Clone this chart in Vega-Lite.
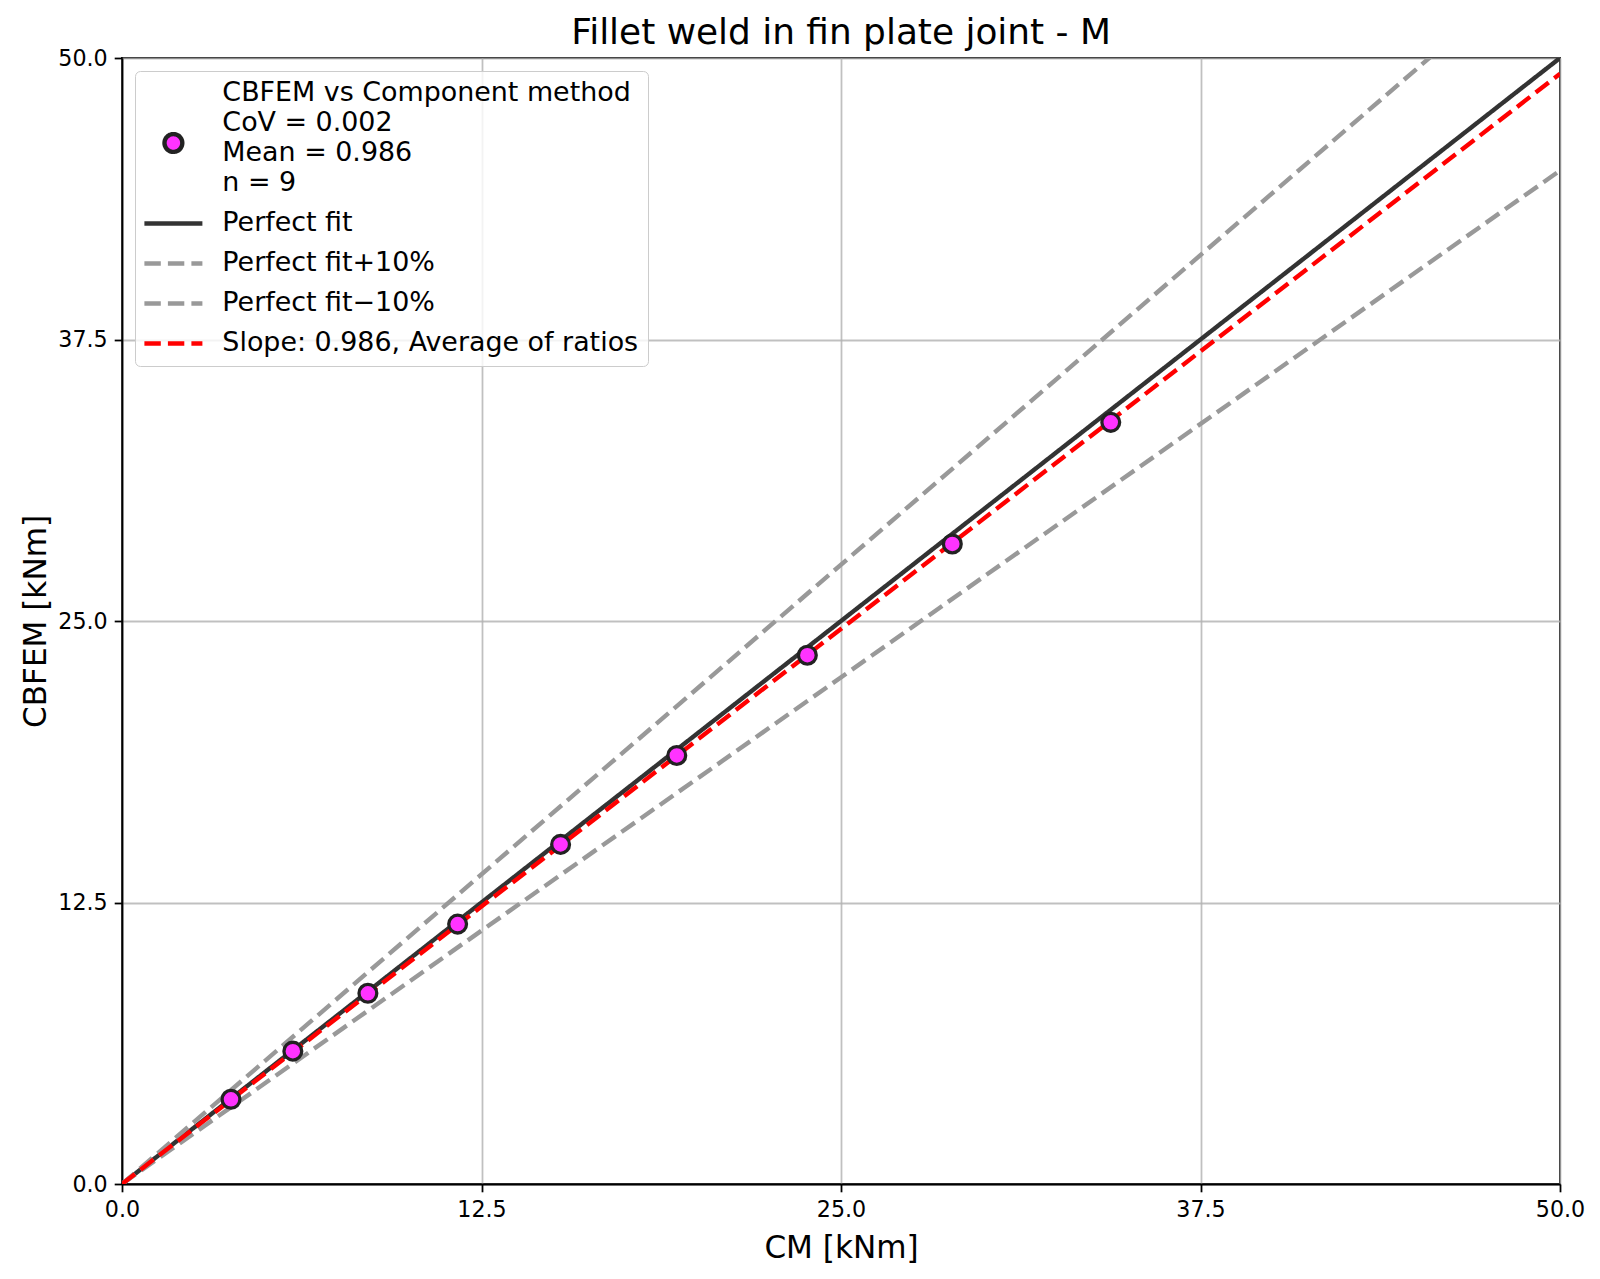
{
  "$schema": "https://vega.github.io/schema/vega-lite/v6.json",
  "autosize": {"type": "none"},
  "padding": {"left": 122, "top": 58, "right": 40, "bottom": 95},
  "width": 1438,
  "height": 1126,
  "background": "white",
  "title": {
    "text": "Fillet weld in fin plate joint - M",
    "font": "DejaVu Sans",
    "fontSize": 35.9,
    "fontWeight": "normal",
    "color": "black",
    "anchor": "middle",
    "frame": "group",
    "offset": -5.3
  },
  "datasets": {
    "points": [
      {"cm": 3.79, "cbfem": 3.76, "series": "CBFEM vs Component method|CoV = 0.002|Mean = 0.986|n = 9"},
      {"cm": 5.94, "cbfem": 5.90, "series": "CBFEM vs Component method|CoV = 0.002|Mean = 0.986|n = 9"},
      {"cm": 8.55, "cbfem": 8.47, "series": "CBFEM vs Component method|CoV = 0.002|Mean = 0.986|n = 9"},
      {"cm": 11.67, "cbfem": 11.54, "series": "CBFEM vs Component method|CoV = 0.002|Mean = 0.986|n = 9"},
      {"cm": 15.25, "cbfem": 15.08, "series": "CBFEM vs Component method|CoV = 0.002|Mean = 0.986|n = 9"},
      {"cm": 19.29, "cbfem": 19.03, "series": "CBFEM vs Component method|CoV = 0.002|Mean = 0.986|n = 9"},
      {"cm": 23.83, "cbfem": 23.48, "series": "CBFEM vs Component method|CoV = 0.002|Mean = 0.986|n = 9"},
      {"cm": 28.87, "cbfem": 28.42, "series": "CBFEM vs Component method|CoV = 0.002|Mean = 0.986|n = 9"},
      {"cm": 34.38, "cbfem": 33.82, "series": "CBFEM vs Component method|CoV = 0.002|Mean = 0.986|n = 9"}
    ],
    "lines": [
      {"cm": 0, "cbfem": 0, "series": "Perfect fit"},
      {"cm": 50, "cbfem": 50, "series": "Perfect fit"},
      {"cm": 0, "cbfem": 0, "series": "Perfect fit+10%"},
      {"cm": 50, "cbfem": 55, "series": "Perfect fit+10%"},
      {"cm": 0, "cbfem": 0, "series": "Perfect fit−10%"},
      {"cm": 50, "cbfem": 45, "series": "Perfect fit−10%"},
      {"cm": 0, "cbfem": 0, "series": "Slope: 0.986, Average of ratios"},
      {"cm": 50, "cbfem": 49.3, "series": "Slope: 0.986, Average of ratios"}
    ]
  },
  "config": {
    "view": {"stroke": "black", "strokeWidth": 1.78},
    "axis": {
      "labelFont": "DejaVu Sans",
      "labelFontSize": 22.2,
      "labelColor": "black",
      "titleFont": "DejaVu Sans",
      "titleFontSize": 31.1,
      "titleFontWeight": "normal",
      "titleColor": "black",
      "domainColor": "black",
      "domainWidth": 1.78,
      "tickColor": "black",
      "tickWidth": 1.78,
      "tickSize": 7.8,
      "labelPadding": 7,
      "gridColor": "#b0b0b0",
      "gridWidth": 1.78,
      "gridOpacity": 0.8,
      "labelFlush": false,
      "labelOverlap": false
    },
    "legend": {
      "title": null,
      "orient": "none",
      "legendX": 13,
      "legendY": 13,
      "padding": 9,
      "symbolOffset": 15.95,
      "labelOffset": 35.5,
      "rowPadding": 12.0,
      "symbolSize": 400,
      "symbolStrokeWidth": 4.4,
      "strokeColor": "#cccccc",
      "fillColor": "rgba(255,255,255,0.8)",
      "cornerRadius": 5,
      "labelFont": "DejaVu Sans",
      "labelFontSize": 26.9,
      "labelColor": "black",
      "labelLimit": 0
    }
  },
  "layer": [
    {
      "data": {"name": "lines"},
      "mark": {"type": "line", "strokeWidth": 4.4, "clip": true, "opacity": 1},
      "encoding": {
        "x": {
          "field": "cm", "type": "quantitative",
          "scale": {"domain": [0, 50], "nice": false, "zero": false},
          "axis": {"values": [0, 12.5, 25, 37.5, 50], "format": ".1f", "title": "CM [kNm]", "titleBaseline": "alphabetic", "titleX": 719, "titleY": 73, "grid": true}
        },
        "y": {
          "field": "cbfem", "type": "quantitative",
          "scale": {"domain": [0, 50], "nice": false, "zero": false},
          "axis": {"values": [0, 12.5, 25, 37.5, 50], "format": ".1f", "title": "CBFEM [kNm]", "titleBaseline": "alphabetic", "titleX": -77, "titleY": 563, "titleAngle": 270, "grid": true}
        },
        "stroke": {
          "field": "series", "type": "nominal",
          "scale": {
            "domain": ["CBFEM vs Component method|CoV = 0.002|Mean = 0.986|n = 9", "Perfect fit", "Perfect fit+10%", "Perfect fit−10%", "Slope: 0.986, Average of ratios"],
            "range": ["#222222", "#333333", "#999999", "#999999", "#ff0000"]
          },
          "legend": {
            "labelExpr": "split(datum.label, '|')",
            "encoding": {
              "symbols": {"y": {"condition": {"test": "datum.index === 0", "value": 63}, "value": 13.45}},
              "labels": {"lineHeight": {"value": 30}}
            }
          }
        },
        "strokeDash": {
          "field": "series", "type": "nominal",
          "scale": {
            "domain": ["CBFEM vs Component method|CoV = 0.002|Mean = 0.986|n = 9", "Perfect fit", "Perfect fit+10%", "Perfect fit−10%", "Slope: 0.986, Average of ratios"],
            "range": [[1, 0], [1, 0], [16.4, 7.1], [16.4, 7.1], [16.4, 7.1]]
          },
          "legend": {
            "labelExpr": "split(datum.label, '|')",
            "encoding": {
              "symbols": {"y": {"condition": {"test": "datum.index === 0", "value": 63}, "value": 13.45}},
              "labels": {"lineHeight": {"value": 30}}
            }
          }
        }
      }
    },
    {
      "data": {"name": "points"},
      "mark": {"type": "point", "size": 400, "strokeWidth": 3.3, "opacity": 1, "fillOpacity": 1, "strokeOpacity": 1},
      "encoding": {
        "x": {"field": "cm", "type": "quantitative"},
        "y": {"field": "cbfem", "type": "quantitative"},
        "fill": {
          "field": "series", "type": "nominal",
          "scale": {
            "domain": ["CBFEM vs Component method|CoV = 0.002|Mean = 0.986|n = 9", "Perfect fit", "Perfect fit+10%", "Perfect fit−10%", "Slope: 0.986, Average of ratios"],
            "range": ["#ff33ff", "transparent", "transparent", "transparent", "transparent"]
          },
          "legend": {
            "labelExpr": "split(datum.label, '|')",
            "encoding": {
              "symbols": {"y": {"condition": {"test": "datum.index === 0", "value": 63}, "value": 13.45}},
              "labels": {"lineHeight": {"value": 30}}
            }
          }
        },
        "shape": {
          "field": "series", "type": "nominal",
          "scale": {
            "domain": ["CBFEM vs Component method|CoV = 0.002|Mean = 0.986|n = 9", "Perfect fit", "Perfect fit+10%", "Perfect fit−10%", "Slope: 0.986, Average of ratios"],
            "range": ["M0.89,0A0.89,0.89,0,1,1,-0.89,0A0.89,0.89,0,1,1,0.89,0Z", "M-2.9,0L2.9,0", "M-2.9,0L2.9,0", "M-2.9,0L2.9,0", "M-2.9,0L2.9,0"]
          },
          "legend": {
            "labelExpr": "split(datum.label, '|')",
            "encoding": {
              "symbols": {"y": {"condition": {"test": "datum.index === 0", "value": 63}, "value": 13.45}},
              "labels": {"lineHeight": {"value": 30}}
            }
          }
        },
        "stroke": {
          "field": "series", "type": "nominal",
          "legend": {
            "labelExpr": "split(datum.label, '|')",
            "encoding": {
              "symbols": {"y": {"condition": {"test": "datum.index === 0", "value": 63}, "value": 13.45}},
              "labels": {"lineHeight": {"value": 30}}
            }
          }
        }
      }
    }
  ]
}
